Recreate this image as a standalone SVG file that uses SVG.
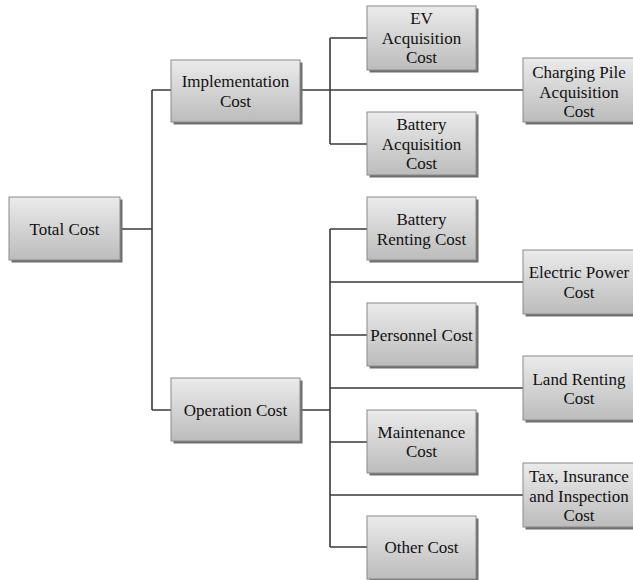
<svg xmlns="http://www.w3.org/2000/svg" width="633" height="580" viewBox="0 0 633 580">
<style>
.box{fill:url(#g);stroke:#8a8a8a;stroke-width:1}
.sh{fill:#6e6e6e}
.t{font-family:'Liberation Serif','DejaVu Serif',serif;font-size:17px;fill:#111;text-anchor:middle}
.c{fill:none;stroke:#3a3a3a;stroke-width:1.6}
</style>
<defs>
<linearGradient id="g" x1="0" y1="0" x2="0" y2="1">
<stop offset="0" stop-color="#ebebeb"/>
<stop offset="1" stop-color="#bcbcbc"/>
</linearGradient>
</defs>
<rect width="633" height="580" fill="#fff"/>
<g id="connectors">
<path class="c" d="M120,229 H152 M152,90 V410 M152,90 H171 M152,410 H171"/>
<path class="c" d="M300,90 H523 M330,38 V144 M330,38 H367 M330,144 H367"/>
<path class="c" d="M300,410 H330 M330,229 V547 M330,229 H367 M330,335 H367 M330,442 H367 M330,547 H367 M330,282 H523 M330,388 H523 M330,495 H523"/>
</g>
<g id="total"><rect class="sh" x="11.5" y="199.5" width="111" height="63"/><rect class="box" x="9" y="197" width="111" height="63"/><text class="t" font-family="Liberation Serif, serif" x="64.5" y="235">Total Cost</text></g>
<g id="implementation"><rect class="sh" x="173.5" y="62.5" width="129" height="62"/><rect class="box" x="171" y="60" width="129" height="62"/><text class="t" x="235.5" y="87">Implementation</text><text class="t" x="235.5" y="107">Cost</text></g>
<g id="operation"><rect class="sh" x="173.5" y="380.5" width="129" height="63"/><rect class="box" x="171" y="378" width="129" height="63"/><text class="t" x="235.5" y="416">Operation Cost</text></g>
<g id="ev"><rect class="sh" x="369.5" y="8.5" width="109" height="64"/><rect class="box" x="367" y="6" width="109" height="64"/><text class="t" x="421.5" y="24">EV</text><text class="t" x="421.5" y="44">Acquisition</text><text class="t" x="421.5" y="63">Cost</text></g>
<g id="batacq"><rect class="sh" x="369.5" y="114.5" width="109" height="63"/><rect class="box" x="367" y="112" width="109" height="63"/><text class="t" x="421.5" y="130">Battery</text><text class="t" x="421.5" y="150">Acquisition</text><text class="t" x="421.5" y="169">Cost</text></g>
<g id="charging"><rect class="sh" x="525.5" y="60.5" width="113" height="64"/><rect class="box" x="523" y="58" width="113" height="64"/><text class="t" x="579" y="78">Charging Pile</text><text class="t" x="579" y="98">Acquisition</text><text class="t" x="579" y="117">Cost</text></g>
<g id="batrent"><rect class="sh" x="369.5" y="199.5" width="109" height="63"/><rect class="box" x="367" y="197" width="109" height="63"/><text class="t" x="421.5" y="225">Battery</text><text class="t" x="421.5" y="245">Renting Cost</text></g>
<g id="electric"><rect class="sh" x="525.5" y="252.5" width="113" height="64"/><rect class="box" x="523" y="250" width="113" height="64"/><text class="t" x="579" y="278">Electric Power</text><text class="t" x="579" y="298">Cost</text></g>
<g id="personnel"><rect class="sh" x="369.5" y="305.5" width="109" height="63"/><rect class="box" x="367" y="303" width="109" height="63"/><text class="t" x="421.5" y="341">Personnel Cost</text></g>
<g id="land"><rect class="sh" x="525.5" y="358.5" width="113" height="64"/><rect class="box" x="523" y="356" width="113" height="64"/><text class="t" x="579" y="385">Land Renting</text><text class="t" x="579" y="404">Cost</text></g>
<g id="maintenance"><rect class="sh" x="369.5" y="412.5" width="109" height="63"/><rect class="box" x="367" y="410" width="109" height="63"/><text class="t" x="421.5" y="438">Maintenance</text><text class="t" x="421.5" y="457">Cost</text></g>
<g id="tax"><rect class="sh" x="525.5" y="465.5" width="113" height="64"/><rect class="box" x="523" y="463" width="113" height="64"/><text class="t" x="579" y="482">Tax, Insurance</text><text class="t" x="579" y="502">and Inspection</text><text class="t" x="579" y="521">Cost</text></g>
<g id="other"><rect class="sh" x="369.5" y="518.5" width="109" height="63"/><rect class="box" x="367" y="516" width="109" height="63"/><text class="t" x="421.5" y="553">Other Cost</text></g>
</svg>
